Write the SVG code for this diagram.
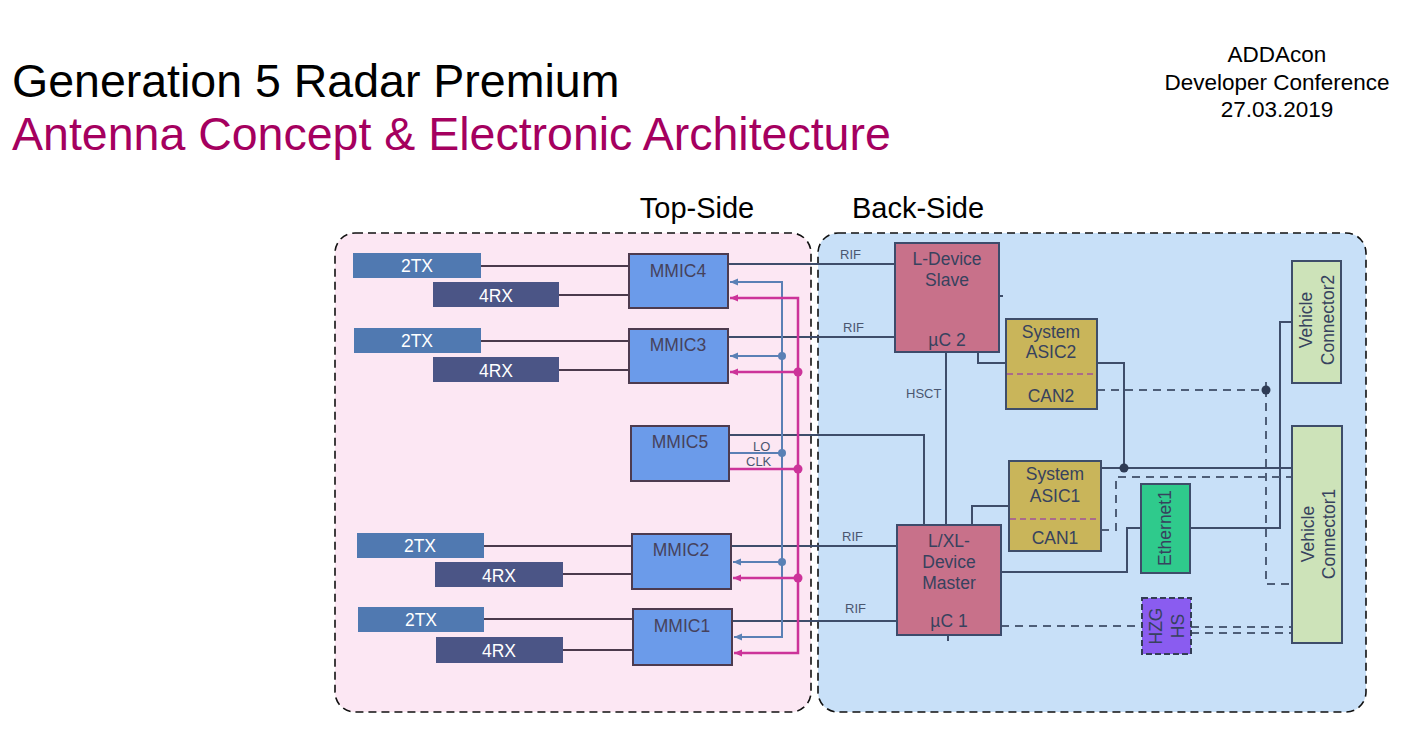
<svg xmlns="http://www.w3.org/2000/svg" width="1410" height="733" viewBox="0 0 1410 733">
<defs>
<style>
.t{font-family:"Liberation Sans",Arial,sans-serif}
.nd{font-family:"Liberation Sans",Arial,sans-serif;font-size:17.5px;fill:#37425e;text-anchor:middle}
.mm{font-family:"Liberation Sans",Arial,sans-serif;font-size:17.5px;fill:#46425c;text-anchor:middle}
.ant{font-family:"Liberation Sans",Arial,sans-serif;font-size:17.5px;fill:#ffffff;text-anchor:middle}
.sm{font-family:"Liberation Sans",Arial,sans-serif;font-size:13px;fill:#4a5670}
.tx{fill:#5079b1}
.rx{fill:#4b5586}
.mmic{fill:#6b9bea;stroke:#4d3b4f;stroke-width:2}
.dev{fill:#c8718a;stroke:#3d4b6b;stroke-width:2}
.asic{fill:#c9b55a;stroke:#3e4d6a;stroke-width:2}
.vc{fill:#cde3b9;stroke:#3e4d6a;stroke-width:2}
.eth{fill:#2fca8c;stroke:#3e4d6a;stroke-width:2}
.hzg{fill:#8a5cf0;stroke:#333d55;stroke-width:2;stroke-dasharray:6 3}
.top{fill:none;stroke:#4b3a4c;stroke-width:2}
.back{fill:none;stroke:#3e4d6a;stroke-width:2}
.dash{fill:none;stroke:#4e5e78;stroke-width:2;stroke-dasharray:8 6}
.lo{fill:none;stroke:#5a80b5;stroke-width:2}
.clk{fill:none;stroke:#cc3399;stroke-width:2.5}
.region{stroke:#111;stroke-width:1.6;stroke-dasharray:8 5}
</style>
<marker id="ab" markerUnits="userSpaceOnUse" markerWidth="10" markerHeight="10" refX="8" refY="5" orient="auto-start-reverse"><path d="M0,1.5 L8,5 L0,8.5 Z" fill="#5a80b5"/></marker>
<marker id="ap" markerUnits="userSpaceOnUse" markerWidth="10" markerHeight="10" refX="8" refY="5" orient="auto-start-reverse"><path d="M0,1.5 L8,5 L0,8.5 Z" fill="#cc3399"/></marker>
</defs>
<rect width="1410" height="733" fill="#ffffff"/>

<g id="titles">
<text class="t" x="12" y="97" font-size="46.5" fill="#000">Generation 5 Radar Premium</text>
<text class="t" x="12" y="150" font-size="46.5" fill="#a5005f">Antenna Concept &amp; Electronic Architecture</text>
<text class="t" x="1277" y="62" font-size="22.5" fill="#000" text-anchor="middle">ADDAcon</text>
<text class="t" x="1277" y="90" font-size="22.5" fill="#000" text-anchor="middle">Developer Conference</text>
<text class="t" x="1277" y="117" font-size="22.5" fill="#000" text-anchor="middle">27.03.2019</text>
<text class="t" x="697" y="218" font-size="29" fill="#000" text-anchor="middle">Top-Side</text>
<text class="t" x="918" y="218" font-size="29" fill="#000" text-anchor="middle">Back-Side</text>
</g>

<g id="regions">
<rect class="region" x="335" y="233" width="476" height="479" rx="20" fill="#fce7f3"/>
<rect class="region" x="818" y="233" width="548" height="479" rx="20" fill="#c8e0f8"/>
</g>

<g id="connectors">
<path class="top" d="M481,266 H629 M559,295 H629"/>
<path class="top" d="M481,341 H629 M559,370 H629"/>
<path class="top" d="M484,546 H632 M563,574 H632"/>
<path class="top" d="M484,619 H633 M563,650 H633"/>
<path class="back" d="M728,264 H895"/>
<path class="back" d="M728,337 H895"/>
<path class="back" d="M731,546 H897"/>
<path class="back" d="M732,621 H897"/>
<path class="back" d="M729,435 H924 V525"/>
<path class="lo" d="M730,282 H782 V637 H734" marker-start="url(#ab)" marker-end="url(#ab)"/>
<path class="lo" d="M782,356 H730" marker-end="url(#ab)"/>
<path class="lo" d="M782,562 H733" marker-end="url(#ab)"/>
<path class="lo" stroke-width="1.3" d="M729,453 H782"/>
<circle cx="782" cy="356" r="4" fill="#5a80b5"/>
<circle cx="782" cy="453" r="4" fill="#5a80b5"/>
<circle cx="782" cy="562" r="4" fill="#5a80b5"/>
<path class="clk" d="M730,298 H798 V653 H734" marker-start="url(#ap)" marker-end="url(#ap)"/>
<path class="clk" d="M798,372 H730" marker-end="url(#ap)"/>
<path class="clk" d="M798,578 H733" marker-end="url(#ap)"/>
<path class="clk" d="M729,469 H798"/>
<circle cx="798" cy="372" r="4.5" fill="#cc3399"/>
<circle cx="798" cy="469" r="4.5" fill="#cc3399"/>
<circle cx="798" cy="578" r="4.5" fill="#cc3399"/>
<path class="back" d="M946,352 V525"/>
<path class="back" d="M978,352 V363 H1006"/>
<path class="back" d="M999,296 H1003"/>
<path class="back" d="M948,635 V641"/>
<path class="back" d="M972,525 V506 H1009"/>
<path class="back" d="M1001,572 H1127 V528 H1141"/>
<path class="back" d="M1097,363 H1124 V468"/>
<path class="back" d="M1101,468 H1292"/>
<circle cx="1124" cy="468" r="4.5" fill="#2e3b55"/>
<path class="back" stroke-width="4" d="M1280,321 V529"/>
<path class="back" d="M1280,322 H1292"/>
<path class="back" d="M1190,528 H1281"/>
<path class="dash" d="M1097,390 H1266 V584 H1292"/>
<path class="dash" d="M1266,382 V390"/>
<circle cx="1266" cy="390" r="4.5" fill="#2e3b55"/>
<path class="dash" d="M1101,530 H1116 V477 H1292"/>
<path class="dash" d="M1001,626 H1142"/>
<path class="dash" d="M1191,627 H1292 M1191,633 H1292"/>
</g>

<g id="labels">
<text class="sm" x="840" y="259">RIF</text>
<text class="sm" x="843" y="332">RIF</text>
<text class="sm" x="842" y="541">RIF</text>
<text class="sm" x="845" y="613">RIF</text>
<text class="sm" x="906" y="398">HSCT</text>
<text class="sm" x="753" y="451" font-size="12.5">LO</text>
<text class="sm" x="746" y="466" font-size="12.5" fill="#cc3399">CLK</text>
</g>

<g id="ant4">
<rect class="tx" x="353" y="253" width="128" height="25"/><text class="ant" x="417" y="272">2TX</text>
<rect class="rx" x="433" y="282" width="126" height="25"/><text class="ant" x="496" y="302">4RX</text>
</g>
<g id="ant3">
<rect class="tx" x="354" y="328" width="127" height="25"/><text class="ant" x="417" y="347">2TX</text>
<rect class="rx" x="433" y="357" width="126" height="25"/><text class="ant" x="496" y="377">4RX</text>
</g>
<g id="ant2">
<rect class="tx" x="357" y="533" width="127" height="25"/><text class="ant" x="420" y="552">2TX</text>
<rect class="rx" x="435" y="562" width="128" height="25"/><text class="ant" x="499" y="582">4RX</text>
</g>
<g id="ant1">
<rect class="tx" x="358" y="607" width="126" height="25"/><text class="ant" x="421" y="626">2TX</text>
<rect class="rx" x="436" y="637" width="127" height="26"/><text class="ant" x="499" y="657">4RX</text>
</g>

<g id="mmic4"><rect class="mmic" x="629" y="254" width="99" height="54"/><text class="mm" x="678" y="277">MMIC4</text></g>
<g id="mmic3"><rect class="mmic" x="629" y="329" width="99" height="54"/><text class="mm" x="678" y="351">MMIC3</text></g>
<g id="mmic5"><rect class="mmic" x="631" y="426" width="98" height="55"/><text class="mm" x="680" y="448">MMIC5</text></g>
<g id="mmic2"><rect class="mmic" x="632" y="534" width="99" height="55"/><text class="mm" x="681" y="556">MMIC2</text></g>
<g id="mmic1"><rect class="mmic" x="633" y="609" width="99" height="56"/><text class="mm" x="682" y="632">MMIC1</text></g>

<g id="slave">
<rect class="dev" x="895" y="243" width="104" height="109"/>
<text class="nd" x="947" y="265">L-Device</text>
<text class="nd" x="947" y="286">Slave</text>
<text class="nd" x="947" y="346">µC 2</text>
</g>
<g id="master">
<rect class="dev" x="897" y="525" width="104" height="110"/>
<text class="nd" x="949" y="547">L/XL-</text>
<text class="nd" x="949" y="568">Device</text>
<text class="nd" x="949" y="589">Master</text>
<text class="nd" x="949" y="627">µC 1</text>
</g>
<g id="asic2">
<rect class="asic" x="1006" y="319" width="91" height="90"/>
<line x1="1007" y1="374" x2="1096" y2="374" stroke="#a0529a" stroke-width="1.5" stroke-dasharray="6 4"/>
<text class="nd" x="1051" y="338">System</text>
<text class="nd" x="1051" y="358">ASIC2</text>
<text class="nd" x="1051" y="402">CAN2</text>
</g>
<g id="asic1">
<rect class="asic" x="1009" y="461" width="92" height="90"/>
<line x1="1010" y1="519" x2="1100" y2="519" stroke="#a0529a" stroke-width="1.5" stroke-dasharray="6 4"/>
<text class="nd" x="1055" y="480">System</text>
<text class="nd" x="1055" y="502">ASIC1</text>
<text class="nd" x="1055" y="544">CAN1</text>
</g>
<g id="ethernet1">
<rect class="eth" x="1141" y="484" width="49" height="89"/>
<text class="nd" transform="translate(1171,528) rotate(-90)">Ethernet1</text>
</g>
<g id="hzg">
<rect class="hzg" x="1142" y="598" width="49" height="56"/>
<text class="nd" transform="translate(1162,626) rotate(-90)">HZG</text>
<text class="nd" transform="translate(1184,626) rotate(-90)">HS</text>
</g>
<g id="vc2">
<rect class="vc" x="1292" y="261" width="49" height="122"/>
<text class="nd" transform="translate(1312,320) rotate(-90)">Vehicle</text>
<text class="nd" transform="translate(1334,320) rotate(-90)">Connector2</text>
</g>
<g id="vc1">
<rect class="vc" x="1292" y="426" width="50" height="217"/>
<text class="nd" transform="translate(1314,534) rotate(-90)">Vehicle</text>
<text class="nd" transform="translate(1335,534) rotate(-90)">Connector1</text>
</g>
</svg>
